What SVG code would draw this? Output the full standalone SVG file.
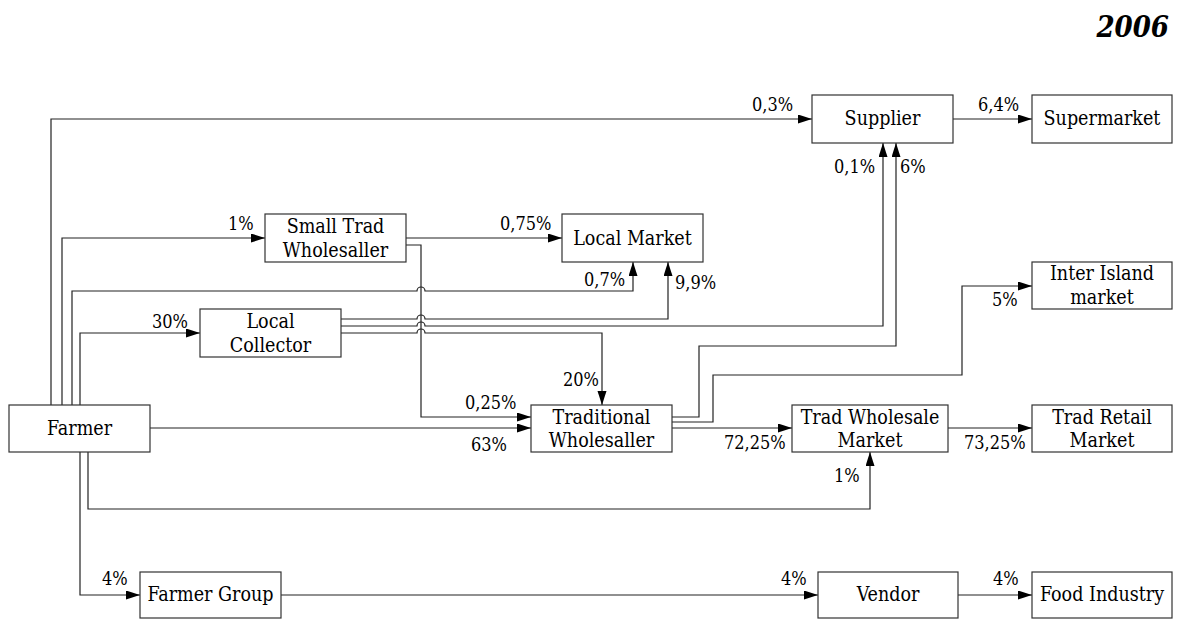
<svg xmlns="http://www.w3.org/2000/svg" width="1181" height="619" viewBox="0 0 1181 619">
<style>
.box{fill:#fff;stroke:#333;stroke-width:1.2}
.nt{font-family:"DejaVu Serif",serif;font-stretch:condensed;font-size:19.5px;fill:#000;text-anchor:middle}
.lb{font-family:"DejaVu Serif",serif;font-stretch:condensed;font-size:18px;fill:#000}
.cn{fill:none;stroke:#222;stroke-width:1.2}
.title{font-family:"DejaVu Serif",serif;font-stretch:condensed;font-size:29px;font-weight:bold;font-style:italic;fill:#000;text-anchor:end}
</style>
<defs>
<marker id="ah" markerUnits="userSpaceOnUse" markerWidth="15" markerHeight="10" refX="14" refY="4.5" orient="auto">
<path d="M0,0 L14,4.5 L0,9 z" fill="#000"/>
</marker>
</defs>
<rect width="1181" height="619" fill="#fff"/>
<text class="title" x="1169" y="37">2006</text>

<g id="connectors">
<path class="cn" marker-end="url(#ah)" d="M51,405 V119 H812"/>
<path class="cn" marker-end="url(#ah)" d="M953,119 H1032"/>
<path class="cn" marker-end="url(#ah)" d="M62,405 V238 H265"/>
<path class="cn" marker-end="url(#ah)" d="M406,238 H562"/>
<path class="cn" marker-end="url(#ah)" d="M406,245 H421 V417 H531"/>
<path class="cn" marker-end="url(#ah)" d="M72,405 V291 H417 A4,4 0 0 1 425,291 H633 V262"/>
<path class="cn" marker-end="url(#ah)" d="M341,319 H417 A4,4 0 0 1 425,319 H668 V262"/>
<path class="cn" marker-end="url(#ah)" d="M341,326 H417 A4,4 0 0 1 425,326 H883 V143"/>
<path class="cn" marker-end="url(#ah)" d="M341,333 H417 A4,4 0 0 1 425,333 H602 V405"/>
<path class="cn" marker-end="url(#ah)" d="M80,405 V333 H200"/>
<path class="cn" marker-end="url(#ah)" d="M150,428 H531"/>
<path class="cn" marker-end="url(#ah)" d="M672,417 H699 V346 H896 V143"/>
<path class="cn" marker-end="url(#ah)" d="M672,422 H713 V375 H962 V286 H1032"/>
<path class="cn" marker-end="url(#ah)" d="M672,428 H792"/>
<path class="cn" marker-end="url(#ah)" d="M948,428 H1032"/>
<path class="cn" marker-end="url(#ah)" d="M88,452 V509 H870 V452"/>
<path class="cn" marker-end="url(#ah)" d="M80,452 V595 H140"/>
<path class="cn" marker-end="url(#ah)" d="M281,595 H818"/>
<path class="cn" marker-end="url(#ah)" d="M958,595 H1032"/>
</g>

<g id="labels">
<text class="lb" x="752" y="111">0,3%</text>
<text class="lb" x="978" y="111">6,4%</text>
<text class="lb" x="228" y="230">1%</text>
<text class="lb" x="500" y="230">0,75%</text>
<text class="lb" x="584" y="286">0,7%</text>
<text class="lb" x="675" y="289">9,9%</text>
<text class="lb" x="834" y="173">0,1%</text>
<text class="lb" x="900" y="173">6%</text>
<text class="lb" x="152" y="328">30%</text>
<text class="lb" x="563" y="386">20%</text>
<text class="lb" x="465" y="409">0,25%</text>
<text class="lb" x="471" y="451">63%</text>
<text class="lb" x="992" y="306">5%</text>
<text class="lb" x="724" y="449">72,25%</text>
<text class="lb" x="964" y="449">73,25%</text>
<text class="lb" x="834" y="482">1%</text>
<text class="lb" x="102" y="585">4%</text>
<text class="lb" x="781" y="585">4%</text>
<text class="lb" x="993" y="585">4%</text>
</g>

<g id="farmer"><rect class="box" x="9" y="405" width="141" height="47"/><text class="nt" x="79.5" y="435">Farmer</text></g>
<g id="small-trad-wholesaller"><rect class="box" x="265" y="214" width="141" height="48"/><text class="nt" x="335.5" y="233">Small Trad</text><text class="nt" x="335.5" y="257">Wholesaller</text></g>
<g id="local-market"><rect class="box" x="562" y="214" width="141" height="48"/><text class="nt" x="632.5" y="245">Local Market</text></g>
<g id="local-collector"><rect class="box" x="200" y="309" width="141" height="48"/><text class="nt" x="270.5" y="328">Local</text><text class="nt" x="270.5" y="352">Collector</text></g>
<g id="supplier"><rect class="box" x="812" y="95" width="141" height="48"/><text class="nt" x="882.5" y="125">Supplier</text></g>
<g id="supermarket"><rect class="box" x="1032" y="95" width="140" height="48"/><text class="nt" x="1102" y="125">Supermarket</text></g>
<g id="inter-island-market"><rect class="box" x="1032" y="262" width="140" height="47"/><text class="nt" x="1102" y="280">Inter Island</text><text class="nt" x="1102" y="304">market</text></g>
<g id="traditional-wholesaller"><rect class="box" x="531" y="405" width="141" height="47"/><text class="nt" x="601.5" y="423.5">Traditional</text><text class="nt" x="601.5" y="447">Wholesaller</text></g>
<g id="trad-wholesale-market"><rect class="box" x="792" y="405" width="156" height="47"/><text class="nt" x="870" y="423.5">Trad Wholesale</text><text class="nt" x="870" y="447">Market</text></g>
<g id="trad-retail-market"><rect class="box" x="1032" y="405" width="140" height="47"/><text class="nt" x="1102" y="423.5">Trad Retail</text><text class="nt" x="1102" y="447">Market</text></g>
<g id="farmer-group"><rect class="box" x="140" y="572" width="141" height="46"/><text class="nt" x="210.5" y="601">Farmer Group</text></g>
<g id="vendor"><rect class="box" x="818" y="572" width="140" height="46"/><text class="nt" x="888" y="601">Vendor</text></g>
<g id="food-industry"><rect class="box" x="1032" y="572" width="140" height="46"/><text class="nt" x="1102" y="601">Food Industry</text></g>
</svg>
